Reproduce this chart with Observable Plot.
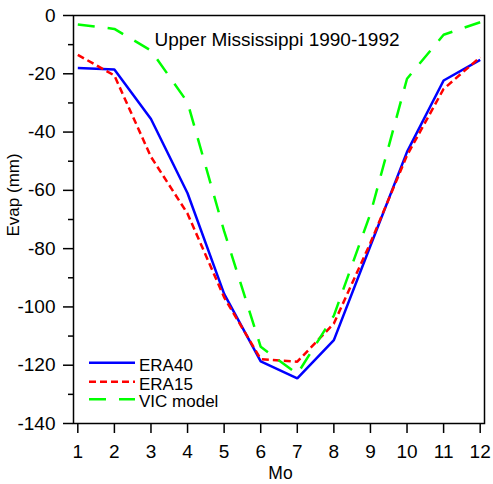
<!DOCTYPE html>
<html><head><meta charset="utf-8">
<script src="https://cdn.jsdelivr.net/npm/d3@7"></script>
<script src="https://cdn.jsdelivr.net/npm/@observablehq/plot@0.6"></script>
<style>
html,body{margin:0;padding:0;background:#fff;}
#chart svg{display:block;}
</style>
</head><body><div id="chart"></div>
<script>
const months = [1, 2, 3, 4, 5, 6, 7, 8, 9, 10, 11, 12];
const era40 = [-18, -18.5, -35.5, -61, -95.5, -118.7, -124.5, -111.4, -79, -46.8, -22.3, -15.2];
const era15 = [-13.5, -20.6, -48.5, -68, -96.7, -117.9, -118.8, -105.7, -78, -48, -25.2, -14.3];
const vic = [-3.1, -4.6, -12, -29.8, -74, -113.7, -123, -103, -68, -21.7, -6.6, -2.3];
const seriesNames = ["ERA40", "ERA15", "VIC model"];
const seriesColors = ["#0000ff", "#ff0000", "#00ff00"];
const seriesDash = [null, "7,4", "17,13"];
const yMajorTicks = [0, -20, -40, -60, -80, -100, -120, -140];
const yMinorTicks = [-10, -30, -50, -70, -90, -110, -130];
const title = "Upper Mississippi 1990-1992";
const xLabel = "Mo";
const yLabel = "Evap (mm)";

const seriesValues = [era40, era15, vic];
const rows = [];
seriesNames.forEach((name, i) => {
  months.forEach((m, j) => rows.push({series: name, month: m, value: seriesValues[i][j]}));
});

const lineMarks = seriesNames.map((name, i) =>
  Plot.line(rows.filter(d => d.series === name), {
    x: "month", y: "value",
    stroke: seriesColors[i], strokeWidth: 2.5,
    strokeDasharray: seriesDash[i] || undefined,
    strokeLinejoin: "miter", strokeLinecap: "butt"
  })
);

const chart = Plot.plot({
  width: 493, height: 484,
  marginLeft: 73, marginRight: 9, marginTop: 15, marginBottom: 61,
  style: {fontFamily: "'Liberation Sans', Arial, sans-serif", fontSize: "19px", color: "#000", background: "#fff"},
  x: {domain: [0.882, 12.118]},
  y: {domain: [-140, 0]},
  marks: [
    Plot.axisX({ticks: months, tickSize: 10, tickPadding: 11, strokeWidth: 1.5, label: null, tickFormat: d => String(d)}),
    Plot.axisY({ticks: yMajorTicks, tickSize: 10, tickPadding: 8, strokeWidth: 1.5, label: null, tickFormat: d => String(d)}),
    Plot.axisY({ticks: yMinorTicks, tickSize: 5, fill: "none", strokeWidth: 1.5, label: null}),
    ...lineMarks,
    Plot.frame({stroke: "#000", strokeWidth: 1.5}),
    Plot.text([title], {frameAnchor: "top", dx: -2, dy: 17, fontSize: 19}),
    Plot.text([xLabel], {frameAnchor: "bottom", dx: 1.5, dy: 43, lineAnchor: "top", fontSize: 17.5}),
    Plot.text([yLabel], {frameAnchor: "left", dx: -60, dy: 17, rotate: -90, fontSize: 17})
  ]
});

// legend (inside plot, lower left)
const svg = d3.select(chart);
const legendRowsY = [362.7, 381.7, 399.3];
const lg = svg.append("g").attr("class", "legend").attr("text-anchor", "start");
seriesNames.forEach((name, i) => {
  const y = legendRowsY[i];
  lg.append("line")
    .attr("x1", 89).attr("x2", 135).attr("y1", y).attr("y2", y)
    .attr("stroke", seriesColors[i]).attr("stroke-width", 2.5)
    .attr("stroke-dasharray", seriesDash[i]);
  lg.append("text")
    .attr("x", 139).attr("y", y + 8)
    .attr("font-size", 17)
    .attr("text-anchor", "start")
    .attr("fill", "#000")
    .text(name);
});

document.getElementById("chart").appendChild(chart);
</script>
</body></html>
